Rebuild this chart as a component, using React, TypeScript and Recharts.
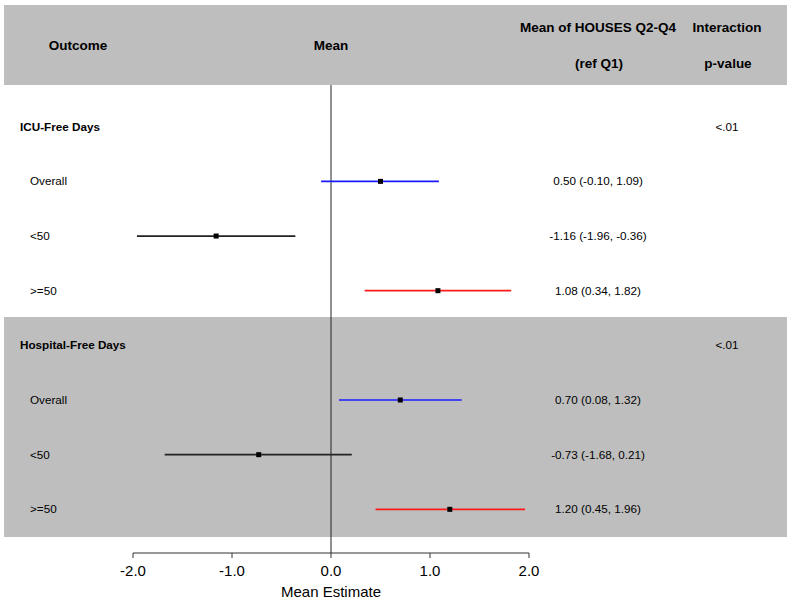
import { ScatterChart, Scatter, XAxis, YAxis, ErrorBar, ReferenceLine } from 'recharts';

const rowLabels = ['ICU-Free Days', 'Overall', '<50', '>=50', 'Hospital-Free Days', 'Overall', '<50', '>=50'];
const headingRows = [0, 4];
const means = [null, 0.5, -1.16, 1.08, null, 0.7, -0.73, 1.2];
const lowers = [null, -0.1, -1.96, 0.34, null, 0.08, -1.68, 0.45];
const uppers = [null, 1.09, -0.36, 1.82, null, 1.32, 0.21, 1.96];
const pValues = ['<.01', '', '', '', '<.01', '', '', ''];
const subgroups = ['Overall', '<50', '>=50'];
const subgroupColors = ['#1a1aff', '#222222', '#ff1a1a'];
const xTicks = [-2, -1, 0, 1, 2];
const rowTicks = rowLabels.map((_, i) => i);

const FONT = '"Liberation Sans", Arial, Helvetica, sans-serif';
const ROW_FONT = 11.7;

const seriesFor = (name: string) =>
  rowLabels
    .map((label, i) => ({ label, i }))
    .filter(r => r.label === name && means[r.i] != null)
    .map(({ i }) => ({
      x: means[i] as number,
      y: i,
      err: [(means[i] as number) - (lowers[i] as number), (uppers[i] as number) - (means[i] as number)],
    }));

const fmt = (v: number) => v.toFixed(2);

function LeftTick({ y, payload }: any) {
  const i = payload.value;
  const heading = headingRows.includes(i);
  return (
    <text x={heading ? 20 : 30} y={y} dy="0.35em" textAnchor="start" fontSize={ROW_FONT}
      fontWeight={heading ? 'bold' : 'normal'} fill="#000" fontFamily={FONT}>
      {rowLabels[i]}
    </text>
  );
}

function RightTick({ y, payload }: any) {
  const i = payload.value;
  const est = means[i] != null
    ? `${fmt(means[i] as number)} (${fmt(lowers[i] as number)}, ${fmt(uppers[i] as number)})`
    : '';
  return (
    <g fontSize={ROW_FONT} fill="#000" fontFamily={FONT}>
      <text x={598} y={y} dy="0.35em" textAnchor="middle">{est}</text>
      <text x={727} y={y} dy="0.35em" textAnchor="middle">{pValues[i]}</text>
    </g>
  );
}

const Square = (props: any) => (
  <rect x={props.cx - 2.5} y={props.cy - 2.5} width={5} height={5} fill="#000" />
);

const headStyle = (left: number, top: number): React.CSSProperties => ({
  position: 'absolute', left, top, transform: 'translate(-50%, -50%)',
  fontWeight: 'bold', fontSize: 13.5, whiteSpace: 'nowrap', color: '#000',
});

export default function App() {
  const yDomain = [-0.763, 7.799];
  return (
    <div style={{ position: 'absolute', left: 0, top: 0, width: 792, height: 600, fontFamily: FONT, background: '#fff' }}>
      {/* grey bands */}
      <div style={{ position: 'absolute', left: 4, top: 5, width: 783, height: 80, background: '#bebebe' }} />
      <div style={{ position: 'absolute', left: 4, top: 317, width: 783, height: 220, background: '#bebebe' }} />

      <div style={headStyle(78, 45)}>Outcome</div>
      <div style={headStyle(331, 45)}>Mean</div>
      <div style={headStyle(598, 27)}>Mean of HOUSES Q2-Q4</div>
      <div style={headStyle(599, 63)}>(ref Q1)</div>
      <div style={headStyle(727, 27)}>Interaction</div>
      <div style={headStyle(728, 63)}>p-value</div>

      <div style={{ position: 'absolute', left: 0, top: 0 }}>
        <ScatterChart width={792} height={600} margin={{ top: 85, right: 0, bottom: 0, left: 0 }}>
          <XAxis
            type="number"
            dataKey="x"
            domain={[-2, 2]}
            ticks={xTicks}
            allowDataOverflow
            tickFormatter={(v: number) => v.toFixed(1)}
            height={47}
            tickSize={5}
            tickMargin={7}
            stroke="#333"
            tick={{ fill: '#000', fontSize: 15, fontFamily: FONT }}
            label={{ value: 'Mean Estimate', position: 'insideBottom', offset: 3, fill: '#000', fontSize: 15, fontFamily: FONT }}
          />
          <YAxis
            type="number"
            dataKey="y"
            domain={yDomain}
            ticks={rowTicks}
            reversed
            allowDataOverflow
            width={133}
            axisLine={false}
            tickLine={false}
            tick={<LeftTick />}
          />
          <YAxis
            yAxisId="right"
            orientation="right"
            type="number"
            domain={yDomain}
            ticks={rowTicks}
            reversed
            allowDataOverflow
            width={263}
            axisLine={false}
            tickLine={false}
            tick={<RightTick />}
          />
          <ReferenceLine x={0} stroke="#222" strokeWidth={1} />
          {subgroups.map((g, k) => (
            <Scatter key={g} name={g} data={seriesFor(g)} shape={<Square />} isAnimationActive={false}>
              <ErrorBar dataKey="err" direction="x" width={0} stroke={subgroupColors[k]}
                strokeWidth={1.7} isAnimationActive={false} />
            </Scatter>
          ))}
        </ScatterChart>
      </div>
    </div>
  );
}
